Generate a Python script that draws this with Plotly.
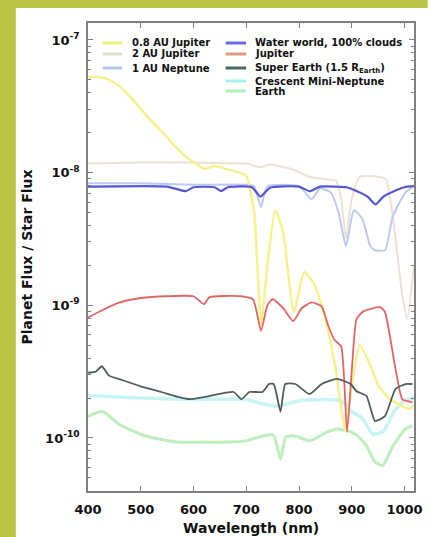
import plotly.graph_objects as go

# ---------------- data (wavelength nm, planet/star flux ratio) ----------------
wl_j08 = [400, 420, 440, 460, 480, 500, 520, 540, 560, 580, 600, 620, 640, 660, 680, 700,
          715, 728, 740, 755, 770, 790, 810, 830, 850, 870, 888, 900, 915, 935, 950, 970,
          990, 1010, 1018]
fx_j08 = [5.25e-8, 5.25e-8, 5.0e-8, 4.47e-8, 3.72e-8, 3.02e-8, 2.45e-8, 2.04e-8, 1.66e-8,
          1.38e-8, 1.20e-8, 1.07e-8, 1.12e-8, 1.07e-8, 1.02e-8, 9.5e-9, 5.0e-9, 7.1e-10,
          2.0e-9, 5.2e-9, 3.55e-9, 8.9e-10, 1.78e-9, 1.41e-9, 7.9e-10, 3.2e-10, 1.12e-10,
          2.5e-10, 5.0e-10, 3.55e-10, 2.5e-10, 2.0e-10, 1.78e-10, 1.66e-10, 1.78e-10]

wl_j2 = [400, 500, 600, 700, 727, 745, 790, 820, 850, 870, 880, 889, 900, 915, 950, 965,
         980, 995, 1005, 1018]
fx_j2 = [1.17e-8, 1.19e-8, 1.19e-8, 1.17e-8, 1.10e-8, 1.15e-8, 1.05e-8, 9.3e-9, 8.9e-9,
         8.7e-9, 6.3e-9, 3.2e-9, 6.3e-9, 9.3e-9, 9.3e-9, 8.9e-9, 4.0e-9, 1.26e-9, 7.9e-10,
         2.0e-9]

wl_nep = [400, 500, 600, 700, 715, 728, 740, 800, 824, 840, 860, 875, 889, 904, 920, 935,
          944, 963, 978, 1002, 1018]
fx_nep = [8.3e-9, 8.3e-9, 8.1e-9, 8.1e-9, 7.9e-9, 5.5e-9, 7.9e-9, 7.9e-9, 6.3e-9, 7.6e-9,
          7.1e-9, 5.0e-9, 2.8e-9, 5.2e-9, 4.5e-9, 2.8e-9, 2.6e-9, 2.6e-9, 4.7e-9, 7.1e-9,
          7.9e-9]

wl_water = [400, 550, 585, 600, 640, 652, 665, 710, 727, 745, 800, 820, 840, 870, 890, 910,
            930, 945, 960, 980, 1000, 1018]
fx_water = [7.85e-9, 7.85e-9, 7.25e-9, 7.76e-9, 7.76e-9, 7.25e-9, 7.76e-9, 7.8e-9, 6.6e-9,
            7.7e-9, 7.85e-9, 7.25e-9, 7.85e-9, 7.85e-9, 7.76e-9, 7.25e-9, 6.6e-9, 5.75e-9,
            6.6e-9, 7.25e-9, 7.76e-9, 7.94e-9]

wl_jup = [400, 430, 460, 500, 550, 600, 620, 630, 690, 713, 728, 740, 750, 770, 789, 805,
          824, 843, 855, 867, 880, 891, 900, 909, 922, 954, 963, 983, 996, 1015]
fx_jup = [8.1e-10, 9.3e-10, 1.05e-9, 1.135e-9, 1.17e-9, 1.17e-9, 1.02e-9, 1.15e-9, 1.17e-9,
          1.11e-9, 6.4e-10, 1.0e-9, 1.11e-9, 9.5e-10, 7.6e-10, 9.5e-10, 1.05e-9, 9.8e-10,
          7.1e-10, 5.5e-10, 4.9e-10, 1.11e-10, 3.2e-10, 7.85e-10, 9.0e-10, 9.7e-10, 8.9e-10,
          3.3e-10, 1.95e-10, 1.86e-10]

wl_se = [400, 415, 426, 440, 459, 500, 539, 570, 594, 630, 676, 691, 706, 731, 743, 752,
         765, 774, 793, 820, 843, 872, 898, 909, 928, 944, 963, 983, 1002, 1015]
fx_se = [3.1e-10, 3.16e-10, 3.47e-10, 2.95e-10, 2.78e-10, 2.45e-10, 2.22e-10, 2.04e-10,
         1.96e-10, 2.07e-10, 2.22e-10, 1.96e-10, 2.22e-10, 2.22e-10, 2.55e-10, 2.55e-10,
         1.58e-10, 2.55e-10, 2.55e-10, 2.14e-10, 2.55e-10, 2.79e-10, 2.55e-10, 2.25e-10,
         2.07e-10, 1.34e-10, 1.46e-10, 2.34e-10, 2.55e-10, 2.55e-10]

wl_cmn = [400, 450, 500, 600, 700, 727, 760, 800, 850, 880, 900, 920, 940, 960, 980, 1000, 1018]
fx_cmn = [2.09e-10, 2.04e-10, 2.0e-10, 1.95e-10, 1.95e-10, 1.82e-10, 1.74e-10, 1.91e-10,
          1.95e-10, 1.91e-10, 1.58e-10, 1.41e-10, 1.07e-10, 1.12e-10, 1.58e-10, 1.91e-10,
          2.0e-10]

wl_earth = [400, 409, 428, 460, 509, 570, 620, 663, 700, 731, 752, 765, 775, 793, 820, 854,
            872, 898, 915, 928, 944, 959, 978, 1002, 1015]
fx_earth = [1.45e-10, 1.51e-10, 1.58e-10, 1.26e-10, 1.035e-10, 9.3e-11, 9.3e-11, 9.3e-11,
            9.5e-11, 1.035e-10, 1.05e-10, 6.9e-11, 1.02e-10, 1.035e-10, 9.5e-11, 1.11e-10,
            1.17e-10, 1.11e-10, 1.0e-10, 8.7e-11, 6.6e-11, 6.2e-11, 8.7e-11, 1.17e-10, 1.23e-10]

x_ticks = [400, 500, 600, 700, 800, 900, 1000]
y_ticks = [1e-10, 1e-9, 1e-8, 1e-7]
y_ticktext = ["10<sup>-10</sup>", "10<sup>-9</sup>", "10<sup>-8</sup>", "10<sup>-7</sup>"]
y_minor = [m * 10.0 ** e for e in (-11, -10, -9, -8) for m in (2, 3, 4, 5, 6, 7, 8, 9)]

# name, x, y, color, width
series = [
    ("2 AU Jupiter", wl_j2, fx_j2, "#ece2d4", 2),
    ("1 AU Neptune", wl_nep, fx_nep, "#bccaf0", 2),
    ("Crescent Mini-Neptune", wl_cmn, fx_cmn, "#c8f4f4", 3.5),
    ("Earth", wl_earth, fx_earth, "#bcefbc", 3),
    ("0.8 AU Jupiter", wl_j08, fx_j08, "#f5f28e", 2.5),
    ("Water world, 100% clouds", wl_water, fx_water, "#5656d6", 2.2),
    ("Jupiter", wl_jup, fx_jup, "#e06666", 1.8),
    ("Super Earth (1.5 R<sub>Earth</sub>)", wl_se, fx_se, "#505e57", 1.8),
]

fig = go.Figure()
for name, xs, ys, col, w in series:
    fig.add_trace(go.Scatter(x=xs, y=ys, mode="lines", name=name, showlegend=False,
                             line=dict(color=col, width=w, shape="spline", smoothing=0.5)))

# ---------------- layout geometry ----------------
W, H = 431, 537
L, R, T, B = 88, 422, 23, 491
pw, ph = R - L, B - T

def px(x):
    return (x - L) / pw

def py(y):
    return (B - y) / ph

FONT = "DejaVu Sans"
axis_col = "#808080"
frame_green = "#bcc447"

shapes = [
    dict(type="rect", xref="paper", yref="paper", x0=px(-5), x1=px(14),
         y0=py(H + 5), y1=py(-5), fillcolor=frame_green, line=dict(width=0), layer="below"),
    dict(type="rect", xref="paper", yref="paper", x0=px(-5), x1=px(W + 5),
         y0=py(8), y1=py(-5), fillcolor=frame_green, line=dict(width=0), layer="below"),
]
annotations = []

# manual legend (two columns)
leg1 = [("0.8 AU Jupiter", "#f3ef7c", 43), ("2 AU Jupiter", "#e4dccd", 54),
        ("1 AU Neptune", "#b7c6ee", 68)]
leg2 = [("Water world, 100% clouds", "#6a6ae0", 43), ("Jupiter", "#e39a7c", 54),
        ("Super Earth (1.5 R<sub>Earth</sub>)", "#4a6a58", 68),
        ("Crescent Mini-Neptune", "#a6f2f0", 81), ("Earth", "#aef0b8", 91)]
for items, lx0, lx1, tx in [(leg1, 103, 123, 131), (leg2, 229, 250, 257)]:
    for label, col, yy in items:
        shapes.append(dict(type="line", xref="paper", yref="paper", x0=px(lx0), x1=px(lx1),
                           y0=py(yy), y1=py(yy), line=dict(color=col, width=3)))
        annotations.append(dict(text=label, xref="paper", yref="paper", x=px(tx), y=py(yy),
                                xanchor="left", yanchor="middle", showarrow=False,
                                font=dict(family=FONT, size=10, color="#111", weight="bold")))

annotations.append(dict(text="Wavelength (nm)", xref="paper", yref="paper", x=px(255), y=py(528),
                        xanchor="center", yanchor="middle", showarrow=False,
                        font=dict(family=FONT, size=14, color="#111", weight="bold")))
annotations.append(dict(text="Planet Flux / Star Flux", xref="paper", yref="paper", x=px(25),
                        y=py(257), xanchor="center", yanchor="middle", textangle=-90,
                        showarrow=False,
                        font=dict(family=FONT, size=14, color="#111", weight="bold")))

fig.update_layout(
    width=W, height=H,
    margin=dict(l=L, r=W - R, t=T, b=H - B, pad=0),
    paper_bgcolor="white",
    plot_bgcolor="white",
    shapes=shapes,
    annotations=annotations,
    showlegend=False,
)
fig.update_xaxes(range=[400, 1018], tickmode="array", tickvals=x_ticks,
                 ticks="inside", ticklen=5, tickcolor=axis_col, showgrid=False, zeroline=False,
                 showline=True, linecolor=axis_col, linewidth=1.5, mirror="ticks",
                 ticklabelstandoff=6,
                 tickfont=dict(family=FONT, size=13, color="#111", weight="bold"))
fig.update_yaxes(type="log", range=[-10.40, -6.872], tickmode="array", tickvals=y_ticks,
                 ticktext=y_ticktext, ticks="inside", ticklen=5, tickcolor=axis_col,
                 showgrid=False, zeroline=False, showline=True, linecolor=axis_col,
                 linewidth=1.5, mirror="ticks", ticklabelstandoff=4,
                 minor=dict(tickmode="array", tickvals=y_minor, ticks="inside", ticklen=3,
                            tickcolor=axis_col, showgrid=False),
                 tickfont=dict(family=FONT, size=13, color="#111", weight="bold"))

fig.write_html("out.html")
